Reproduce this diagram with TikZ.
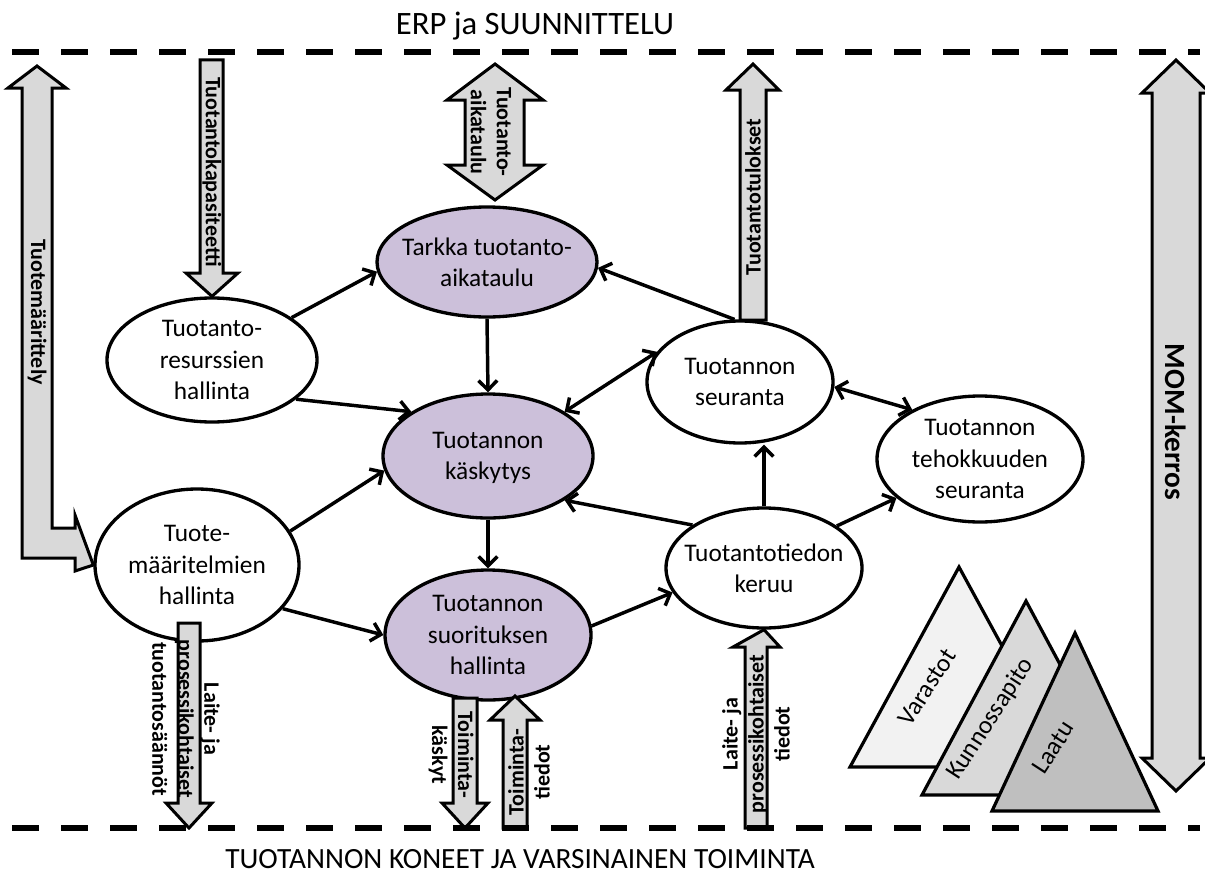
\documentclass[tikz,border=0pt]{standalone}
\usepackage{fontspec}
\setmainfont{Carlito}
\usetikzlibrary{arrows.meta,shapes.geometric}
\definecolor{lav}{HTML}{CCC0DA}
\definecolor{ag}{HTML}{D9D9D9}
\definecolor{tone}{HTML}{F2F2F2}
\definecolor{tthree}{HTML}{BFBFBF}
\begin{document}
\begin{tikzpicture}[x=0.75pt,y=-0.75pt,
  ell/.style={ellipse, draw, line width=2.5pt, inner sep=0pt},
  pur/.style={ell, fill=lav},
  wht/.style={ell, fill=white},
  etxt/.style={align=center, font=\fontsize{19}{23.6}\selectfont, inner sep=0pt, text depth=0pt},
  lbl/.style={align=center, font=\bfseries\fontsize{16.5}{19.5}\selectfont, inner sep=0pt},
  barrow/.style={fill=ag, draw, line width=2.25pt, line join=miter},
  tri/.style={draw, line width=2.4pt, line join=miter},
  tip/.style={},
  conn/.style={line width=2.6pt, -{Straight Barb[length=7pt,width=14pt]}},
  dconn/.style={line width=2.6pt, {Straight Barb[length=7pt,width=14pt]}-{Straight Barb[length=7pt,width=14pt]}},
  dash line/.style={line width=4.5pt, dash pattern=on 20.25pt off 16.5pt},
  ttl/.style={font=\fontsize{24.5}{29}\selectfont, anchor=base, inner sep=0pt}
]
\useasboundingbox (0,0) rectangle (1205,874);

% titles
\node[ttl] (erp) at (535,35) {ERP ja SUUNNITTELU};
\node[ttl, font=\fontsize{22}{26}\selectfont] (tuot) at (520,868) {TUOTANNON KONEET JA VARSINAINEN TOIMINTA};

% ellipses
\node[pur, minimum width=165pt, minimum height=82.5pt] (tarkka) at (487,262) {};
\node[pur, minimum width=157.5pt, minimum height=93pt] (kasky) at (488,456) {};
\node[pur, minimum width=154.5pt, minimum height=97.5pt] (suor) at (488,635) {};
\node[wht, minimum width=157.5pt, minimum height=93pt] (res) at (212,360) {};
\node[wht, minimum width=153pt, minimum height=114pt] (tuote) at (197,565) {};
\node[wht, minimum width=139.5pt, minimum height=91.5pt] (seu) at (740,382) {};
\node[wht, minimum width=154.5pt, minimum height=94.5pt] (teho) at (980,459) {};
\node[wht, minimum width=147pt, minimum height=90pt] (keruu) at (764,568) {};

\node[etxt] (tarkkat) at (tarkka) {Tarkka tuotanto-\\aikataulu};
\node[etxt] (kaskyt) at (kasky) {Tuotannon\\käskytys};
\node[etxt] (suort) at (suor) {Tuotannon\\suorituksen\\hallinta};
\node[etxt] (rest) at (res) {Tuotanto-\\resurssien\\hallinta};
\node[etxt] (tuotet) at (tuote) {Tuote-\\määritelmien\\hallinta};
\node[etxt] (seut) at (seu) {Tuotannon\\seuranta};
\node[etxt] (tehot) at (teho) {Tuotannon\\tehokkuuden\\seuranta};
\node[etxt] (keruut) at (keruu) {Tuotantotiedon\\keruu};

% block arrows
\draw[barrow] (37,66) -- (66,88) -- (52,88) -- (52,528) -- (75,528) -- (75,515) -- (tuote.west) -- (75,571) -- (75,558) -- (22,558) -- (22,88) -- (8,88) -- cycle;
\node[lbl, rotate=-90] (l1) at (37,312) {Tuotemäärittely};

\draw[barrow] (200,60) -- (223,60) -- (223,273) -- (238,273) -- (res.north) -- (186,273) -- (200,273) -- cycle;
\node[lbl, rotate=-90] (l2) at (212,172) {Tuotantokapasiteetti};

\draw[barrow] (495,64) -- (543,100) -- (524,100) -- (524,165) -- (543,165) -- (495,200) -- (447,165) -- (465,165) -- (465,100) -- (447,100) -- cycle;
\node[lbl, rotate=-90] (l3) at (491,132) {Tuotanto-\\aikataulu};

\draw[barrow] (753,64) -- (779,90) -- (766,90) -- (766,320) -- (740,320) -- (740,90) -- (726,90) -- cycle;
\node[lbl, rotate=90] (l4) at (753,197) {Tuotantotulokset};

\draw[barrow] (1176,60) -- (1210,93) -- (1200,93) -- (1200,758) -- (1210,758) -- (1176,791) -- (1142,758) -- (1152,758) -- (1152,93) -- (1142,93) -- cycle;
\node[lbl, rotate=-90, font=\bfseries\fontsize{22}{26}\selectfont] (l5) at (1176,422) {MOM-kerros};

\draw[barrow] (178,623) -- (200,623) -- (200,803) -- (212,803) -- (189,828) -- (166,803) -- (178,803) -- cycle;
\node[lbl, rotate=-90] (l6) at (186,719) {Laite- ja\\prosessikohtaiset\\tuotantosäännöt};

\draw[barrow] (453,698) -- (477,698) -- (477,803) -- (488,803) -- (465,828) -- (442,803) -- (453,803) -- cycle;
\node[lbl, rotate=-90] (l7) at (451,755) {Toiminta-\\käskyt};

\draw[barrow] (503,828) -- (503,720) -- (490,720) -- (515,696) -- (540,720) -- (527,720) -- (527,828) -- cycle;
\node[lbl, rotate=90] (l8) at (529,772) {Toiminta-\\tiedot};

\draw[barrow] (745,828) -- (745,647) -- (733,647) -- (keruu.south) -- (780,647) -- (767,647) -- (767,828) -- cycle;
\node[lbl, rotate=90] (l9) at (756,734) {Laite- ja\\prosessikohtaiset\\tiedot};

% connectors
\draw[conn] (res.28) -- (tarkka.185);
\draw[conn] (res.-25) -- (kasky.150);
\draw[conn] (tarkka.south) -- (kasky.north);
\draw[conn] (tuote.20) -- (kasky.188);
\draw[conn] (tuote.-27) -- (suor.180);
\draw[conn] (kasky.south) -- (suor.north);
\draw[conn] (suor.5) -- (keruu.195);
\draw[conn] (keruu.149) -- (kasky.-30);
\draw[conn] (keruu.north) -- (keruu.north |- seu.south);
\draw[conn] (keruu.30) -- (teho.205);
\draw[conn] (seu.95) -- (tarkka.-3);
\draw[dconn] (kasky.30) -- (seu.160);
\draw[dconn] (seu.-3) -- (teho.144);

% triangles
\draw[tri, fill=tone] (959,567) -- (1068,767) -- (850,767) -- cycle;
\node[etxt, rotate=57] (var) at (927,687) {Varastot};
\draw[tri, fill=ag] (1026,601) -- (1130,795) -- (922,795) -- cycle;
\node[etxt, rotate=57] (kun) at (989,718) {Kunnossapito};
\draw[tri, fill=tthree] (1075,633) -- (1158,811) -- (992,811) -- cycle;
\node[etxt, rotate=57] (laa) at (1053,747) {Laatu};

% dashed borders
\draw[dash line] (12,52) -- (1200,52);
\draw[dash line] (12,828) -- (1200,828);
\end{tikzpicture}
\end{document}
